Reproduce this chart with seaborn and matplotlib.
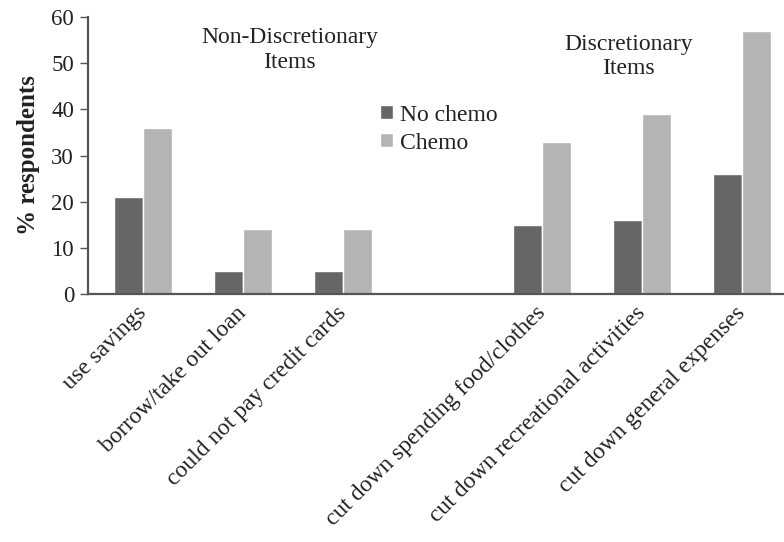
import matplotlib
matplotlib.use("Agg")
import matplotlib.pyplot as plt
import matplotlib.transforms as mtransforms
import seaborn as sns
import pandas as pd

categories = ["use savings", "borrow/take out loan", "could not pay credit cards",
              "cut down spending food/clothes", "cut down recreational activities",
              "cut down general expenses"]
no_chemo = [21, 5, 5, 15, 16, 26]
chemo = [36, 14, 14, 33, 39, 57]
series = ["No chemo", "Chemo"]
gap_label = " "
order = categories[:3] + [gap_label] + categories[3:]

df = pd.DataFrame({
    "category": categories * 2,
    "value": no_chemo + chemo,
    "group": [series[0]] * len(categories) + [series[1]] * len(categories),
})

sns.set_theme(style="white")
plt.rcParams["font.family"] = ["Liberation Serif", "DejaVu Serif"]

fig = plt.figure(figsize=(7.84, 5.42), dpi=100)
ax = fig.add_axes([88/784, 1 - 294/542, 1 - 88/784, (294 - 17)/542])

sns.barplot(data=df, x="category", y="value", hue="group", order=order,
            hue_order=series, palette=["#666666", "#b4b4b4"], width=0.58,
            saturation=1, ax=ax, legend=True)

ax.set_xlim(-0.55, 6.42)
ax.set_ylim(0, 60)
ax.set_yticks(range(0, 61, 10))
ax.tick_params(axis="y", labelsize=16.5, length=6, width=1, color="#555555",
               direction="out", left=True, pad=4, labelcolor="#222222")
ax.tick_params(axis="x", labelsize=17, length=0, pad=6, labelcolor="#222222")
ax.set_xticks(range(len(order)))
ax.set_xticklabels(order, rotation=45, ha="right", rotation_mode="anchor")
offset = mtransforms.ScaledTranslation(-7/100, 0, fig.dpi_scale_trans)
for lbl in ax.get_xticklabels():
    lbl.set_transform(lbl.get_transform() + offset)
ax.set_xlabel("")
ax.set_ylabel("% respondents", fontsize=18, fontweight="bold", labelpad=8,
              color="#222222")

for s in ["top", "right"]:
    ax.spines[s].set_visible(False)
for s in ["left", "bottom"]:
    ax.spines[s].set_color("#555555")
    ax.spines[s].set_linewidth(1.6)

ax.text(1.47, 52.8, "Non-Discretionary\nItems", ha="center", va="center",
        fontsize=17, linespacing=1.25, color="#222222")
ax.text(4.86, 51.5, "Discretionary\nItems", ha="center", va="center",
        fontsize=17, linespacing=1.2, color="#222222")

leg = ax.legend(loc="center left", bbox_to_anchor=(0.42, 0.595), frameon=False,
                fontsize=17, handlelength=0.55, handleheight=0.55,
                handletextpad=0.3, labelspacing=0.3, borderpad=0,
                borderaxespad=0)
for t in leg.get_texts():
    t.set_color("#222222")

fig.savefig("out.png", dpi=100)
